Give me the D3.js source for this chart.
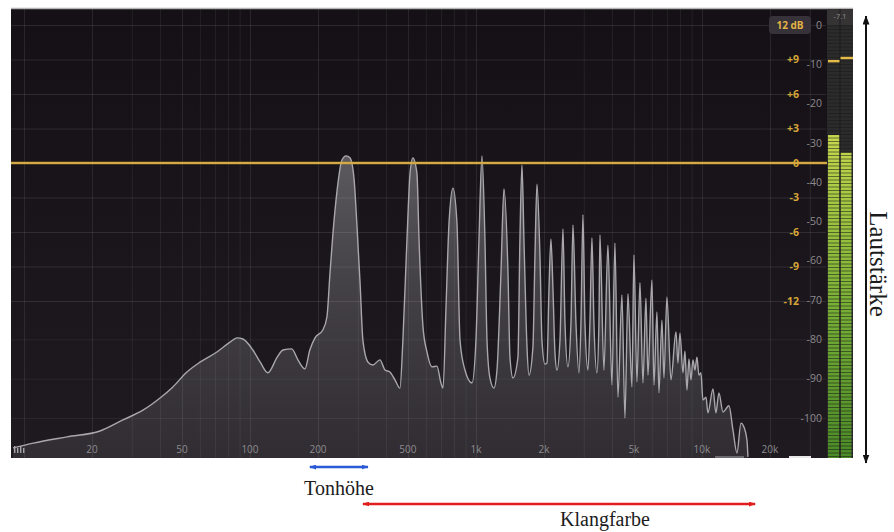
<!DOCTYPE html>
<html>
<head>
<meta charset="utf-8">
<script src="https://cdn.jsdelivr.net/npm/d3@7"></script>
<style>
  html, body { margin: 0; padding: 0; background: #ffffff; }
  svg { display: block; }
</style>
</head>
<body>
<svg id="chart" width="894" height="532"></svg>
<script>
// Analyzer spectrum of a sustained tone: [frequency in Hz, level in dB]
const spectrum = [
  [8.94,-107.6],[11.0,-106.4],[15.5,-104.8],[21.7,-103.3],[27.4,-100.5],[33.6,-98.0],
  [40.0,-94.9],[45.6,-92.1],[52.6,-88.3],[60.1,-85.8],[71.4,-83.2],[81.6,-80.7],
  [87.6,-79.6],[93.1,-79.9],[103,-82.7],[111,-85.8],[120,-88.5],[132,-84.5],
  [140,-82.7],[153,-82.4],[163,-85.2],[175,-87.5],[184,-82.7],[194,-79.6],
  [210,-77.6],[219,-74.3],[226,-63.1],[233,-52.9],[243,-42.0],[255,-34.4],
  [266,-33.3],[277,-33.8],[289,-39.4],[297,-50.4],[307,-65.6],[316,-80.2],
  [333,-85.8],[350,-86.5],[376,-85.2],[396,-87.8],[416,-88.3],[438,-90.3],
  [461,-92.4],[475,-80.2],[495,-54.7],[511,-37.7],[526,-33.8],[548,-37.7],
  [560,-54.7],[583,-76.8],[607,-83.2],[639,-87.0],[672,-86.8],[700,-91.1],
  [715,-92.4],[737,-71.8],[760,-50.4],[791,-41.5],[824,-50.4],[850,-80.2],
  [894,-87.8],[960,-91.1],[1000,-80.2],[1031,-54.7],[1063,-33.3],[1096,-54.7],
  [1119,-80.2],[1153,-89.8],[1201,-92.4],[1239,-87.8],[1290,-63.1],[1330,-41.7],
  [1386,-63.1],[1414,-84.5],[1458,-89.8],[1534,-84.5],[1565,-54.7],[1598,-35.6],
  [1631,-54.7],[1682,-81.9],[1716,-89.1],[1787,-81.9],[1824,-59.0],[1862,-40.5],
  [1920,-59.0],[1959,-80.2],[2020,-86.3],[2062,-86.0],[2104,-67.4],[2147,-54.5],
  [2192,-67.4],[2237,-83.5],[2283,-87.8],[2354,-80.2],[2427,-51.9],[2477,-75.8],
  [2553,-87.0],[2633,-75.8],[2687,-50.9],[2770,-75.8],[2856,-88.5],[2915,-75.8],
  [2975,-48.3],[3036,-75.8],[3130,-87.8],[3194,-75.8],[3260,-54.2],[3327,-75.8],
  [3430,-88.5],[3501,-75.8],[3537,-53.4],[3684,-87.8],[3837,-56.0],[3997,-91.6],
  [4121,-55.5],[4249,-94.7],[4426,-68.7],[4563,-100.0],[4705,-68.4],[4901,-92.1],
  [5001,-58.5],[5156,-90.8],[5318,-65.6],[5482,-91.1],[5652,-69.5],[5769,-89.1],
  [6009,-64.9],[6133,-91.6],[6322,-73.0],[6452,-93.6],[6653,-75.1],[6790,-89.8],
  [7000,-69.2],[7292,-90.3],[7674,-78.1],[7831,-86.0],[7993,-78.4],[8241,-88.5],
  [8411,-83.0],[8583,-92.9],[8760,-85.0],[8941,-90.3],[9125,-85.2],[9311,-87.8],
  [9504,-84.5],[9698,-89.1],[9899,-88.5],[10100,-95.4],[10420,-94.7],[10630,-98.7],
  [11190,-92.6],[11530,-98.7],[11890,-93.6],[12390,-98.5],[13170,-96.9],[13720,-103.1],
  [14290,-108.9],[14880,-101.3],[15340,-102.3],[15820,-105.6],[15980,-109.9]
];

// Frequency axis labels
const freqTicks  = [20, 50, 100, 200, 500, 1000, 2000, 5000, 10000, 20000];
const freqLabels = ["20","50","100","200","500","1k","2k","5k","10k","20k"];

// EQ gain scale (yellow) and analyzer level scale (gray)
const eqTicks    = [9, 6, 3, 0, -3, -6, -9, -12];
const eqLabels   = ["+9","+6","+3","0","-3","-6","-9","-12"];
const eqGrid     = [12, 9, 6, 3, -3, -6, -9, -12];
const levelTicks = [0, -10, -20, -30, -40, -50, -60, -70, -80, -90, -100];
const levelGrid  = [-80, -90, -100];
const eqRangeLabel = "12 dB";

// Output meter (left, right) in dB
const meterLevels = [-28, -32.5];
const meterPeaks  = [-9.2, -8.4];
const meterReadout = "-7.1";

// Annotated frequency ranges
const pitchRange  = [184, 333];
const timbreRange = [316, 17200];
const pitchText   = "Tonhöhe";
const timbreText  = "Klangfarbe";
const loudnessText = "Lautstärke";

const svg = d3.select("#chart");
const P = { x0: 11, x1: 826, y0: 9, y1: 458 };

const x = d3.scaleLog().domain([8.76, 35400]).range([P.x0, P.x1]);
const y = d3.scaleLinear().domain([0, -100]).range([25, 418]);
const yEq = d3.scaleLinear().domain([12, -12]).range([25, 301]);

const uiFont = "'Open Sans', 'DejaVu Sans', sans-serif";
const serifFont = "'Liberation Serif', 'DejaVu Serif', serif";

const defs = svg.append("defs");

const bg = defs.append("linearGradient").attr("id", "panelBg")
  .attr("x1", 0).attr("y1", 0).attr("x2", 0).attr("y2", 1);
bg.append("stop").attr("offset", 0).attr("stop-color", "#141015");
bg.append("stop").attr("offset", 1).attr("stop-color", "#1e1a20");

const sf = defs.append("linearGradient").attr("id", "specFill")
  .attr("gradientUnits", "userSpaceOnUse")
  .attr("x1", 0).attr("y1", 150).attr("x2", 0).attr("y2", P.y1);
sf.append("stop").attr("offset", 0).attr("stop-color", "rgb(200,198,204)").attr("stop-opacity", 0.4);
sf.append("stop").attr("offset", 0.45).attr("stop-color", "rgb(185,183,189)").attr("stop-opacity", 0.26);
sf.append("stop").attr("offset", 1).attr("stop-color", "rgb(170,168,174)").attr("stop-opacity", 0.13);

const mg = defs.append("linearGradient").attr("id", "meterFill")
  .attr("gradientUnits", "userSpaceOnUse")
  .attr("x1", 0).attr("y1", 130).attr("x2", 0).attr("y2", P.y1);
mg.append("stop").attr("offset", 0).attr("stop-color", "#c9d84e");
mg.append("stop").attr("offset", 0.25).attr("stop-color", "#a0c540");
mg.append("stop").attr("offset", 0.55).attr("stop-color", "#76ae35");
mg.append("stop").attr("offset", 1).attr("stop-color", "#4a8a27");

defs.append("clipPath").attr("id", "panelClip")
  .append("rect").attr("x", P.x0).attr("y", P.y0)
  .attr("width", P.x1 - P.x0).attr("height", P.y1 - P.y0);

function arrowMarker(id, color, w, h) {
  defs.append("marker").attr("id", id)
    .attr("viewBox", `0 0 ${w} ${h}`).attr("refX", w - 0.5).attr("refY", h / 2)
    .attr("markerWidth", w).attr("markerHeight", h)
    .attr("markerUnits", "userSpaceOnUse")
    .attr("orient", "auto-start-reverse")
    .append("path").attr("d", `M0,0L${w},${h / 2}L0,${h}Z`).attr("fill", color);
}
arrowMarker("headBlack", "#111", 9, 7);
arrowMarker("headBlue", "#2a5ad6", 7, 5);
arrowMarker("headRed", "#e21d1d", 7, 5);

// Panel
svg.append("rect").attr("x", P.x0).attr("y", P.y0)
  .attr("width", 853 - P.x0).attr("height", P.y1 - P.y0).attr("fill", "url(#panelBg)");
svg.append("line").attr("x1", P.x0).attr("x2", 853).attr("y1", 8.5).attr("y2", 8.5)
  .attr("stroke", "#b4b4b4").attr("stroke-width", 1.5);

const plot = svg.append("g").attr("clip-path", "url(#panelClip)");

// Vertical grid (1-2-...-9 per decade)
const gridFreqs = x.ticks(40).filter(f => f >= 10);
plot.append("g").selectAll("line").data(gridFreqs).join("line")
  .attr("x1", d => x(d) + 0.5).attr("x2", d => x(d) + 0.5)
  .attr("y1", P.y0).attr("y2", P.y1)
  .attr("stroke", "#ffffff")
  .attr("stroke-opacity", d => freqTicks.includes(d) || [10, 30000].includes(d) ? 0.09 : 0.065);

// Horizontal grid
plot.append("g").selectAll("line").data(eqGrid).join("line")
  .attr("x1", P.x0).attr("x2", P.x1)
  .attr("y1", d => yEq(d) + 0.5).attr("y2", d => yEq(d) + 0.5)
  .attr("stroke", "#ffffff").attr("stroke-opacity", 0.1);
plot.append("g").selectAll("line").data(levelGrid).join("line")
  .attr("x1", P.x0).attr("x2", P.x1)
  .attr("y1", d => y(d) + 0.5).attr("y2", d => y(d) + 0.5)
  .attr("stroke", "#ffffff").attr("stroke-opacity", 0.06);

// Spectrum
const area = d3.area().curve(d3.curveMonotoneX)
  .x(d => x(d[0])).y0(P.y1).y1(d => y(d[1]));
const line = d3.line().curve(d3.curveMonotoneX)
  .x(d => x(d[0])).y(d => y(d[1]));
plot.append("path").datum(spectrum).attr("d", area).attr("fill", "url(#specFill)");
plot.append("path").datum(spectrum).attr("d", line)
  .attr("fill", "none").attr("stroke", "#a9a7ab").attr("stroke-width", 1.4)
  .attr("stroke-linejoin", "round");

// 0 dB EQ line
svg.append("line").attr("x1", P.x0).attr("x2", P.x1 + 2)
  .attr("y1", yEq(0)).attr("y2", yEq(0))
  .attr("stroke", "#c4962d").attr("stroke-width", 2.4);
svg.append("line").attr("x1", P.x0).attr("x2", P.x1 + 2)
  .attr("y1", yEq(0)).attr("y2", yEq(0))
  .attr("stroke", "#eccb6c").attr("stroke-width", 0.8);

// Frequency labels
svg.append("g").selectAll("text").data(freqTicks).join("text")
  .attr("x", d => x(d)).attr("y", 453)
  .attr("text-anchor", "middle")
  .attr("font-family", uiFont).attr("font-size", 10)
  .attr("fill", "#8d8b8f")
  .text((d, i) => freqLabels[i]);

// Analyzer level labels
svg.append("g").selectAll("text").data(levelTicks).join("text")
  .attr("x", 822).attr("y", d => y(d)).attr("dy", "0.35em")
  .attr("text-anchor", "end")
  .attr("font-family", uiFont).attr("font-size", 10.5)
  .attr("fill", "#8d8b8f")
  .text(d => d);

// EQ gain labels
svg.append("g").selectAll("text").data(eqTicks).join("text")
  .attr("x", 799).attr("y", d => yEq(d)).attr("dy", "0.35em")
  .attr("text-anchor", "end")
  .attr("font-family", uiFont).attr("font-size", 10.5)
  .attr("font-weight", 700)
  .attr("fill", "#d6a638")
  .text((d, i) => eqLabels[i]);

// Range badge
svg.append("rect").attr("x", 769).attr("y", 16).attr("width", 42).attr("height", 18)
  .attr("rx", 4).attr("fill", "#37323a");
svg.append("text").attr("x", 790).attr("y", 25).attr("dy", "0.35em")
  .attr("text-anchor", "middle")
  .attr("font-family", uiFont).attr("font-size", 10)
  .attr("font-weight", 700).attr("fill", "#e2b444")
  .text(eqRangeLabel);

// Bottom-left analyzer icon
const icon = svg.append("g").attr("fill", "#a5a3a7");
[[14, 446, 7], [17, 448, 5], [20, 446, 7], [23, 448, 5]].forEach(([ix, iy, ih]) =>
  icon.append("rect").attr("x", ix).attr("y", iy).attr("width", 1.4).attr("height", ih));

// Small strips along the panel's lower edge
svg.append("rect").attr("x", 715).attr("y", 456).attr("width", 29).attr("height", 2).attr("fill", "#6d6b6f");
svg.append("rect").attr("x", 789).attr("y", 456).attr("width", 22).attr("height", 2).attr("fill", "#e8e8e8");

// Output meter
const cols = [[828, 11.5], [840.5, 11]];
const meter = svg.append("g");
meter.append("rect").attr("x", 827).attr("y", P.y0).attr("width", 26).attr("height", P.y1 - P.y0)
  .attr("fill", "#2c2b2c");
meter.append("rect").attr("x", 827).attr("y", P.y0).attr("width", 26).attr("height", 16)
  .attr("fill", "#353334");
meter.selectAll("rect.lit").data(meterLevels).join("rect").attr("class", "lit")
  .attr("x", (d, i) => cols[i][0]).attr("width", (d, i) => cols[i][1])
  .attr("y", d => y(d)).attr("height", d => P.y1 - y(d))
  .attr("fill", "url(#meterFill)");
const segYs = d3.range(P.y0 + 17, P.y1, 3.5);
meter.append("g").selectAll("line").data(segYs).join("line")
  .attr("x1", 827).attr("x2", 853).attr("y1", d => d).attr("y2", d => d)
  .attr("stroke", "#1a1919").attr("stroke-opacity", 0.55).attr("stroke-width", 1);
meter.append("line").attr("x1", 840).attr("x2", 840).attr("y1", P.y0).attr("y2", P.y1)
  .attr("stroke", "#1c1b1c").attr("stroke-width", 1);
meter.selectAll("rect.peak").data(meterPeaks).join("rect").attr("class", "peak")
  .attr("x", (d, i) => cols[i][0]).attr("width", (d, i) => cols[i][1] + (i === 1 ? 1.5 : 0))
  .attr("y", d => y(d) - 1.2).attr("height", 2.4)
  .attr("fill", "#e6bb45");
meter.append("text").attr("x", 840).attr("y", 19)
  .attr("text-anchor", "middle")
  .attr("font-family", uiFont).attr("font-size", 7.5)
  .attr("fill", "#8f8d8f").text(meterReadout);

// Loudness arrow and label
svg.append("line").attr("x1", 866).attr("x2", 866).attr("y1", 16).attr("y2", 463)
  .attr("stroke", "#111").attr("stroke-width", 2)
  .attr("marker-start", "url(#headBlack)").attr("marker-end", "url(#headBlack)");
svg.append("text")
  .attr("transform", "translate(870,264) rotate(90)")
  .attr("text-anchor", "middle")
  .attr("font-family", serifFont).attr("font-size", 25)
  .attr("fill", "#1c1c1c").text(loudnessText);

// Pitch range
svg.append("line").attr("x1", x(pitchRange[0])).attr("x2", x(pitchRange[1]))
  .attr("y1", 467).attr("y2", 467)
  .attr("stroke", "#2a5ad6").attr("stroke-width", 2.4)
  .attr("marker-start", "url(#headBlue)").attr("marker-end", "url(#headBlue)");
svg.append("text").attr("x", x(Math.sqrt(pitchRange[0] * pitchRange[1]))).attr("y", 495)
  .attr("text-anchor", "middle")
  .attr("font-family", serifFont).attr("font-size", 20)
  .attr("fill", "#1c1c1c").text(pitchText);

// Timbre range
svg.append("line").attr("x1", x(timbreRange[0])).attr("x2", x(timbreRange[1]))
  .attr("y1", 504).attr("y2", 504)
  .attr("stroke", "#e21d1d").attr("stroke-width", 2.4)
  .attr("marker-start", "url(#headRed)").attr("marker-end", "url(#headRed)");
svg.append("text").attr("x", 605).attr("y", 526)
  .attr("text-anchor", "middle")
  .attr("font-family", serifFont).attr("font-size", 20)
  .attr("fill", "#1c1c1c").text(timbreText);
</script>
</body>
</html>
